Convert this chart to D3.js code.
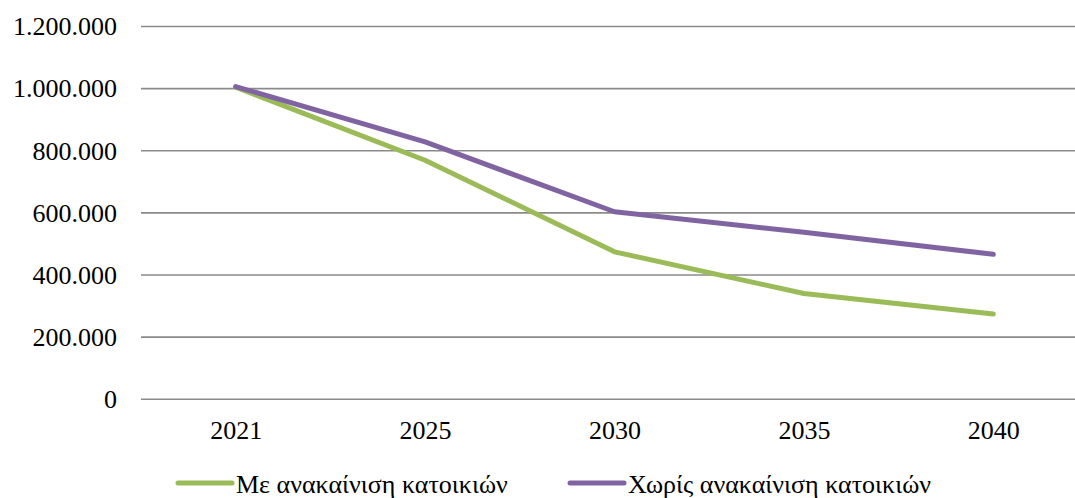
<!DOCTYPE html>
<html>
<head>
<meta charset="utf-8">
<script src="https://cdn.jsdelivr.net/npm/d3@7"></script>
<style>
  html, body { margin: 0; padding: 0; background: #fff; }
  svg { display: block; }
</style>
</head>
<body>
<svg id="chart" width="1075" height="498"></svg>
<script>
// Years on the category axis
const years = ["2021", "2025", "2030", "2035", "2040"];

// Number of dwellings per scenario
const withRenovation = [1003000, 768000, 473000, 339000, 273000];
const withoutRenovation = [1005000, 827000, 602000, 536000, 465000];

// Y axis tick values
const yTicks = [0, 200000, 400000, 600000, 800000, 1000000, 1200000];

const seriesNames = ["Με ανακαίνιση κατοικιών", "Χωρίς ανακαίνιση κατοικιών"];
const seriesColors = ["#9BBB59", "#8064A2"];

const series = [
  { name: seriesNames[0], color: seriesColors[0], values: withRenovation },
  { name: seriesNames[1], color: seriesColors[1], values: withoutRenovation }
];

const FONT = '"Liberation Serif"';

const svg = d3.select("#chart");

const plot = { left: 141, right: 1088, top: 26, bottom: 398.8 };

const x = d3.scalePoint()
  .domain(years)
  .range([plot.left, plot.right])
  .padding(0.5);

const y = d3.scaleLinear()
  .domain([0, 1200000])
  .range([plot.bottom, plot.top]);

// Thousands separated with dots
const fmt = d3.formatLocale({ decimal: ",", thousands: ".", grouping: [3], currency: ["", "€"] }).format(",.0f");

// Horizontal gridlines with labels
const yAxis = d3.axisLeft(y)
  .tickValues(yTicks)
  .tickFormat(fmt)
  .tickSize(-(plot.right - plot.left))
  .tickPadding(24);

const gy = svg.append("g")
  .attr("transform", `translate(${plot.left},0)`)
  .call(yAxis)
  .attr("font-family", null)
  .attr("font-size", null);
gy.select(".domain").remove();
gy.selectAll(".tick line")
  .attr("stroke", "#8a8a8a")
  .attr("stroke-width", 1.6);
gy.selectAll(".tick text")
  .attr("font-size", 26)
  .attr("dy", "0.34em")
  .attr("fill", "#000")
  .style("font-family", FONT);

// Category labels
const xAxis = d3.axisBottom(x).tickSize(0).tickPadding(22);
const gx = svg.append("g")
  .attr("transform", `translate(0,${plot.bottom})`)
  .call(xAxis)
  .attr("font-family", null)
  .attr("font-size", null);
gx.select(".domain").remove();
gx.selectAll(".tick text")
  .attr("font-size", 26)
  .attr("dy", "0.71em")
  .attr("fill", "#000")
  .style("font-family", FONT);

// Series lines
const line = d3.line()
  .x((d, i) => x(years[i]))
  .y(d => y(d));

svg.append("g")
  .selectAll("path")
  .data(series)
  .join("path")
  .attr("d", d => line(d.values))
  .attr("fill", "none")
  .attr("stroke", d => d.color)
  .attr("stroke-width", 5)
  .attr("stroke-linejoin", "round")
  .attr("stroke-linecap", "round");

// Legend
const legendX = [178, 570];
const legendY = 483;
const legend = svg.append("g")
  .selectAll("g")
  .data(series)
  .join("g")
  .attr("transform", (d, i) => `translate(${legendX[i]},${legendY})`);

legend.append("line")
  .attr("x1", 0).attr("x2", 54)
  .attr("y1", 0).attr("y2", 0)
  .attr("stroke", d => d.color)
  .attr("stroke-width", 5)
  .attr("stroke-linecap", "round");

legend.append("text")
  .attr("x", 58)
  .attr("y", 10)
  .attr("font-size", 26)
  .attr("fill", "#000")
  .style("font-family", FONT)
  .text(d => d.name);
</script>
</body>
</html>
